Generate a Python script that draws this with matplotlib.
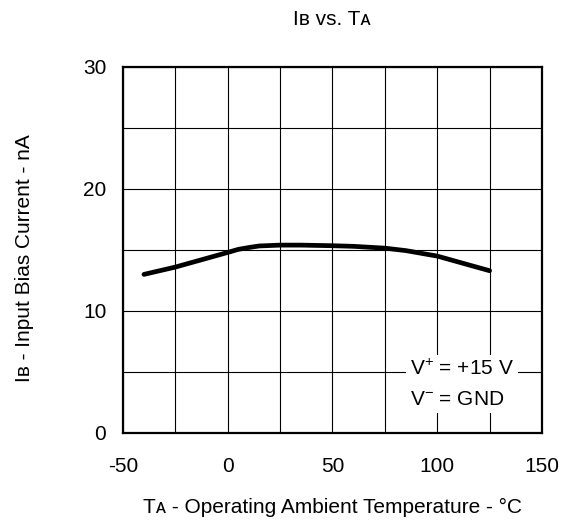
import matplotlib
matplotlib.use('Agg')
from matplotlib import pyplot as plt

# input bias current vs ambient temperature
temp_c = [-40, -25, 0, 5, 10, 15, 25, 35, 50, 60, 75, 85, 100, 125]
ib_na = [13.0, 13.6, 14.8, 15.05, 15.2, 15.33, 15.4, 15.4, 15.35, 15.3, 15.15, 14.95, 14.5, 13.3]

x_ticks = [-50, 0, 50, 100, 150]
y_ticks = [0, 10, 20, 30]
x_grid = [-50, -25, 0, 25, 50, 75, 100, 125, 150]
y_grid = [0, 5, 10, 15, 20, 25, 30]

plt.rcParams['font.family'] = ['Liberation Sans', 'DejaVu Sans']
plt.rcParams['mathtext.fontset'] = 'custom'
plt.rcParams['mathtext.rm'] = 'Liberation Sans'
plt.rcParams['mathtext.it'] = 'Liberation Sans'
plt.rcParams['axes.unicode_minus'] = False
fs = 15

fig = plt.figure(figsize=(5.66, 5.23), dpi=100)
ax = fig.add_axes([0.2173, 0.1721, 0.7403, 0.6998])

for gx in x_grid:
    ax.axvline(gx, color='black', lw=0.8, zorder=1)
for gy in y_grid:
    ax.axhline(gy, color='black', lw=0.8, zorder=1)

ax.plot(temp_c, ib_na, color='black', lw=3.4, solid_capstyle='round', zorder=3)

ax.set_xlim(-50, 150)
ax.set_ylim(0, 30)
ax.set_xticks(x_ticks)
ax.set_yticks(y_ticks)
ax.tick_params(axis='x', length=0, pad=17, labelsize=fs)
ax.tick_params(axis='y', length=0, pad=12, labelsize=fs)
for s in ax.spines.values():
    s.set_linewidth(1.6)
    s.set_zorder(4)

ax.text(87, 4.0, 'V$^{+}$ = +15 V\nV$^{-}$ = GND', fontsize=fs, va='center', ha='left',
        linespacing=1.75,
        bbox=dict(facecolor='white', edgecolor='none', pad=2.5), zorder=5)

fig.text(0.587, 0.962, 'Iʙ vs. Tᴀ', fontsize=fs, ha='center', va='center')
fig.text(0.044, 0.507, 'Iʙ - Input Bias Current - nA', fontsize=fs, ha='center', va='center',
         rotation=90)
fig.text(0.587, 0.029, 'Tᴀ - Operating Ambient Temperature - °C', fontsize=fs,
         ha='center', va='center')

fig.savefig('out.png', dpi=100)
